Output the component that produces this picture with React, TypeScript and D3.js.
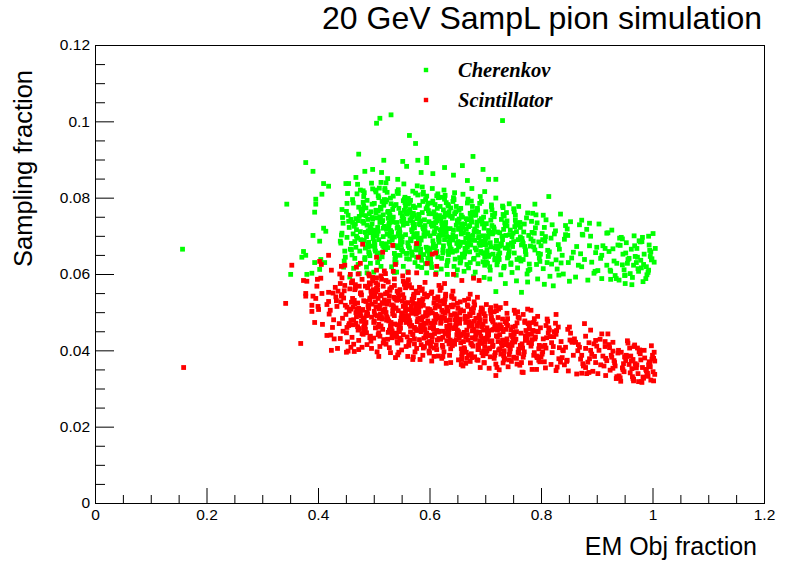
import React, { useEffect, useRef } from 'react';
import * as d3 from 'd3';

const xTicks = [0, 0.2, 0.4, 0.6, 0.8, 1, 1.2];
const yTicks = [0, 0.02, 0.04, 0.06, 0.08, 0.1, 0.12];
const legendLabels = ['Cherenkov', 'Scintillator'];
const seriesColors = ['#00ff00', '#ff0000'];

// EM Obj fraction vs sampling fraction, Cherenkov channel
const cherenkovPoints: [number, number][] = [
  [0.157,0.0665],[0.344,0.0783],[0.351,0.0599],[0.371,0.0644],[0.374,0.0659],[0.378,0.0649],[0.378,0.0892],[0.380,0.0599],[0.389,0.0602],[0.391,0.0869],[0.391,0.0701],[0.394,0.0762],[0.394,0.0630],[0.396,0.0796],[0.396,0.0783],[0.403,0.0686],[0.403,0.0612],[0.405,0.0638],[0.407,0.0809],[0.410,0.0837],[0.410,0.0720],[0.412,0.0630],[0.414,0.0712],[0.419,0.0830],
  [0.505,0.0995],[0.511,0.1008],[0.531,0.1017],[0.564,0.0963],[0.575,0.0942],[0.473,0.0914],[0.518,0.0898],[0.552,0.0895],[0.579,0.0898],[0.595,0.0903],[0.595,0.0892],[0.559,0.0882],[0.659,0.0884],[0.627,0.0879],[0.585,0.0866],[0.606,0.0863],[0.484,0.0869],[0.498,0.0874],[0.468,0.0853],[0.514,0.0866],[0.525,0.0850],[0.543,0.0848],[0.643,0.0859],[0.668,0.0845],[0.455,0.0837],[0.731,0.1002],[0.678,0.0908],[0.696,0.0874],[0.706,0.0848],[0.719,0.0848],[0.676,0.0824],[0.699,0.0816],[0.814,0.0803],[0.789,0.0783],[0.804,0.0754],[0.873,0.0741],[0.887,0.0733],[0.918,0.0707],[0.982,0.0696],[0.993,0.0699],[0.941,0.0694],[0.946,0.0692],[0.995,0.0662],[0.844,0.0727],[0.848,0.0701],[0.874,0.0704],[0.900,0.0670],[0.909,0.0649],[0.936,0.0628],[0.925,0.0607],[0.950,0.0596],[0.897,0.0607],[0.765,0.0552],[0.736,0.0575],[0.719,0.0554],[0.806,0.0573],[0.951,0.0575],[0.925,0.0586],
  [0.447,0.0634],[0.455,0.0738],[0.442,0.0702],[0.451,0.0764],[0.458,0.0665],[0.444,0.0748],[0.449,0.0644],[0.453,0.0811],[0.440,0.0686],[0.456,0.0722],[0.446,0.0618],[0.452,0.0785],[0.443,0.0707],[0.459,0.0743],[0.448,0.0660],[0.454,0.0754],[0.441,0.0681],[0.450,0.0837],[0.457,0.0592],[0.445,0.0733],[0.452,0.0696],[0.443,0.0769],
  [0.467,0.0731],[0.475,0.0660],[0.462,0.0795],[0.471,0.0694],[0.478,0.0760],[0.464,0.0615],[0.469,0.0716],[0.473,0.0775],[0.460,0.0680],[0.476,0.0820],[0.466,0.0641],[0.472,0.0740],[0.463,0.0705],[0.479,0.0765],[0.468,0.0670],[0.474,0.0751],[0.461,0.0650],[0.470,0.0810],[0.477,0.0690],[0.465,0.0725],[0.472,0.0625],[0.463,0.0786],[0.476,0.0711],[0.468,0.0745],[0.460,0.0664],[0.479,0.0755],[0.466,0.0685],[0.471,0.0835],[0.474,0.0601],[0.462,0.0735],[0.469,0.0699],[0.477,0.0770],
  [0.487,0.0618],[0.495,0.0718],[0.482,0.0778],[0.491,0.0683],[0.498,0.0823],[0.484,0.0643],[0.489,0.0743],[0.493,0.0708],[0.480,0.0768],[0.496,0.0673],[0.486,0.0753],[0.492,0.0653],[0.483,0.0813],[0.499,0.0693],[0.488,0.0728],[0.494,0.0628],[0.481,0.0788],[0.490,0.0713],[0.497,0.0748],[0.485,0.0668],[0.492,0.0758],[0.483,0.0688],[0.496,0.0838],[0.488,0.0603],[0.480,0.0738],[0.499,0.0703],[0.486,0.0773],[0.491,0.0658],[0.494,0.0723],[0.482,0.0803],[0.489,0.0678],[0.497,0.0783],[0.484,0.0638],[0.493,0.0716],[0.487,0.0698],[0.498,0.0744],[0.481,0.0818],[0.490,0.0671],[0.495,0.0763],[0.485,0.0709],[0.488,0.0793],[0.493,0.0648],[0.482,0.0733],[0.497,0.0731],
  [0.507,0.0630],[0.515,0.0790],[0.502,0.0715],[0.511,0.0750],[0.518,0.0670],[0.504,0.0760],[0.509,0.0690],[0.513,0.0840],[0.500,0.0605],[0.516,0.0740],[0.506,0.0705],[0.512,0.0775],[0.503,0.0660],[0.519,0.0725],[0.508,0.0805],[0.514,0.0680],[0.501,0.0785],[0.510,0.0640],[0.517,0.0720],[0.505,0.0700],[0.512,0.0745],[0.503,0.0820],[0.516,0.0675],[0.508,0.0765],[0.500,0.0710],[0.519,0.0795],[0.506,0.0650],[0.511,0.0735],[0.514,0.0737],[0.502,0.0665],[0.509,0.0800],[0.517,0.0698],[0.504,0.0767],[0.513,0.0620],[0.507,0.0722],[0.518,0.0780],[0.501,0.0685],[0.510,0.0825],[0.515,0.0645],[0.505,0.0747],[0.508,0.0712],[0.513,0.0770],[0.502,0.0677],[0.517,0.0755],[0.511,0.0655],[0.504,0.0815],
  [0.527,0.0724],[0.535,0.0804],[0.522,0.0679],[0.531,0.0784],[0.538,0.0639],[0.524,0.0719],[0.529,0.0699],[0.533,0.0744],[0.520,0.0819],[0.536,0.0674],[0.526,0.0764],[0.532,0.0709],[0.523,0.0794],[0.539,0.0649],[0.528,0.0734],[0.534,0.0736],[0.521,0.0664],[0.530,0.0799],[0.537,0.0697],[0.525,0.0762],[0.532,0.0619],[0.523,0.0717],[0.536,0.0779],[0.528,0.0684],[0.520,0.0824],[0.539,0.0644],[0.526,0.0746],[0.531,0.0711],[0.534,0.0769],[0.522,0.0672],[0.529,0.0754],[0.537,0.0654],[0.524,0.0814],[0.533,0.0694],[0.527,0.0729],[0.538,0.0629],[0.521,0.0789],[0.530,0.0714],[0.535,0.0749],[0.525,0.0669],[0.528,0.0759],[0.533,0.0689],[0.522,0.0839],[0.537,0.0604],[0.531,0.0739],[0.524,0.0704],
  [0.547,0.0708],[0.555,0.0767],[0.542,0.0674],[0.551,0.0752],[0.558,0.0654],[0.544,0.0811],[0.549,0.0693],[0.553,0.0728],[0.540,0.0630],[0.556,0.0787],[0.546,0.0713],[0.552,0.0747],[0.543,0.0669],[0.559,0.0757],[0.548,0.0689],[0.554,0.0836],[0.541,0.0605],[0.550,0.0738],[0.557,0.0703],[0.545,0.0772],[0.552,0.0659],[0.543,0.0723],[0.556,0.0801],[0.548,0.0679],[0.540,0.0782],[0.559,0.0640],[0.546,0.0718],[0.551,0.0698],[0.554,0.0743],[0.542,0.0816],[0.549,0.0676],[0.557,0.0762],[0.544,0.0706],[0.553,0.0792],[0.547,0.0649],[0.558,0.0733],[0.541,0.0735],[0.550,0.0664],[0.555,0.0796],[0.545,0.0700],[0.548,0.0760],[0.553,0.0620],[0.542,0.0720],[0.557,0.0777],[0.551,0.0684],[0.544,0.0821],
  [0.567,0.0740],[0.575,0.0812],[0.562,0.0673],[0.571,0.0759],[0.578,0.0706],[0.564,0.0788],[0.569,0.0649],[0.573,0.0730],[0.560,0.0732],[0.576,0.0663],[0.566,0.0793],[0.572,0.0697],[0.563,0.0761],[0.579,0.0620],[0.568,0.0716],[0.574,0.0774],[0.561,0.0682],[0.570,0.0817],[0.577,0.0644],[0.565,0.0742],[0.572,0.0704],[0.563,0.0764],[0.576,0.0671],[0.568,0.0750],[0.560,0.0654],[0.579,0.0807],[0.566,0.0692],[0.571,0.0726],[0.574,0.0630],[0.562,0.0783],[0.569,0.0711],[0.577,0.0745],[0.564,0.0668],[0.573,0.0754],[0.567,0.0687],[0.578,0.0831],[0.561,0.0606],[0.570,0.0735],[0.575,0.0702],[0.565,0.0769],[0.568,0.0658],[0.573,0.0721],[0.562,0.0798],[0.577,0.0678],[0.571,0.0778],[0.564,0.0639],
  [0.587,0.0828],[0.595,0.0603],[0.582,0.0732],[0.591,0.0699],[0.598,0.0766],[0.584,0.0655],[0.589,0.0718],[0.593,0.0795],[0.580,0.0675],[0.596,0.0775],[0.586,0.0636],[0.592,0.0713],[0.583,0.0694],[0.599,0.0737],[0.588,0.0809],[0.594,0.0670],[0.581,0.0756],[0.590,0.0703],[0.597,0.0785],[0.585,0.0646],[0.592,0.0727],[0.583,0.0729],[0.596,0.0660],[0.588,0.0790],[0.580,0.0692],[0.599,0.0758],[0.586,0.0617],[0.591,0.0715],[0.594,0.0771],[0.582,0.0679],[0.589,0.0814],[0.597,0.0641],[0.584,0.0739],[0.593,0.0705],[0.587,0.0761],[0.598,0.0668],[0.581,0.0747],[0.590,0.0651],[0.595,0.0804],[0.585,0.0689],[0.588,0.0723],[0.593,0.0627],[0.582,0.0780],[0.597,0.0708],[0.591,0.0742],[0.584,0.0665],
  [0.607,0.0678],[0.615,0.0810],[0.602,0.0640],[0.611,0.0735],[0.618,0.0702],[0.604,0.0758],[0.609,0.0669],[0.613,0.0744],[0.600,0.0650],[0.616,0.0800],[0.606,0.0687],[0.612,0.0720],[0.603,0.0626],[0.619,0.0777],[0.608,0.0706],[0.614,0.0739],[0.601,0.0664],[0.610,0.0749],[0.617,0.0683],[0.605,0.0824],[0.612,0.0603],[0.603,0.0730],[0.616,0.0697],[0.608,0.0763],[0.600,0.0655],[0.619,0.0716],[0.606,0.0791],[0.611,0.0673],[0.614,0.0772],[0.602,0.0636],[0.609,0.0711],[0.617,0.0692],[0.604,0.0733],[0.613,0.0805],[0.607,0.0671],[0.618,0.0753],[0.601,0.0700],[0.610,0.0782],[0.615,0.0645],[0.605,0.0725],[0.608,0.0727],[0.613,0.0659],[0.602,0.0786],[0.617,0.0690],[0.611,0.0755],[0.604,0.0617],
  [0.627,0.0796],[0.635,0.0683],[0.622,0.0716],[0.631,0.0622],[0.638,0.0773],[0.624,0.0702],[0.629,0.0735],[0.633,0.0660],[0.620,0.0745],[0.636,0.0679],[0.626,0.0820],[0.632,0.0599],[0.623,0.0726],[0.639,0.0693],[0.628,0.0759],[0.634,0.0651],[0.621,0.0712],[0.630,0.0787],[0.637,0.0669],[0.625,0.0768],[0.632,0.0632],[0.623,0.0707],[0.636,0.0688],[0.628,0.0731],[0.620,0.0801],[0.639,0.0665],[0.626,0.0749],[0.631,0.0698],[0.634,0.0778],[0.622,0.0641],[0.629,0.0721],[0.637,0.0719],[0.624,0.0655],[0.633,0.0782],[0.627,0.0690],[0.638,0.0751],[0.621,0.0613],[0.630,0.0709],[0.635,0.0763],[0.625,0.0674],[0.628,0.0806],[0.633,0.0636],[0.622,0.0733],[0.637,0.0696],[0.631,0.0754],[0.624,0.0663],
  [0.647,0.0763],[0.655,0.0629],[0.642,0.0703],[0.651,0.0685],[0.658,0.0726],[0.644,0.0795],[0.649,0.0662],[0.653,0.0744],[0.640,0.0694],[0.656,0.0772],[0.646,0.0639],[0.652,0.0717],[0.643,0.0715],[0.659,0.0652],[0.648,0.0777],[0.654,0.0683],[0.641,0.0746],[0.650,0.0611],[0.657,0.0705],[0.645,0.0758],[0.652,0.0671],[0.643,0.0800],[0.656,0.0634],[0.648,0.0728],[0.640,0.0692],[0.659,0.0749],[0.646,0.0660],[0.651,0.0735],[0.654,0.0643],[0.642,0.0790],[0.649,0.0680],[0.657,0.0712],[0.644,0.0620],[0.653,0.0767],[0.647,0.0698],[0.658,0.0731],[0.641,0.0657],[0.650,0.0740],[0.655,0.0675],[0.645,0.0813],[0.648,0.0597],[0.653,0.0721],[0.642,0.0689],[0.657,0.0754],
  [0.667,0.0681],[0.675,0.0740],[0.662,0.0607],[0.671,0.0699],[0.678,0.0754],[0.664,0.0667],[0.669,0.0796],[0.673,0.0630],[0.660,0.0722],[0.676,0.0690],[0.666,0.0745],[0.672,0.0658],[0.663,0.0731],[0.679,0.0639],[0.668,0.0786],[0.674,0.0676],[0.661,0.0708],[0.670,0.0616],[0.677,0.0763],[0.665,0.0694],[0.672,0.0727],[0.663,0.0653],[0.676,0.0736],[0.668,0.0671],[0.660,0.0809],[0.679,0.0593],[0.666,0.0717],[0.671,0.0685],[0.674,0.0750],[0.662,0.0644],[0.669,0.0704],[0.677,0.0777],[0.664,0.0662],[0.673,0.0759],[0.667,0.0625],[0.678,0.0701],[0.661,0.0683],[0.670,0.0724],[0.675,0.0791],[0.665,0.0660],[0.668,0.0742],[0.673,0.0688],
  [0.687,0.0650],[0.695,0.0731],[0.682,0.0668],[0.691,0.0803],[0.698,0.0591],[0.684,0.0713],[0.689,0.0681],[0.693,0.0745],[0.680,0.0641],[0.696,0.0700],[0.686,0.0772],[0.692,0.0659],[0.683,0.0754],[0.699,0.0623],[0.688,0.0695],[0.694,0.0677],[0.681,0.0718],[0.690,0.0785],[0.697,0.0654],[0.685,0.0736],[0.692,0.0686],[0.683,0.0763],[0.696,0.0632],[0.688,0.0709],[0.680,0.0711],[0.699,0.0645],[0.686,0.0767],[0.691,0.0675],[0.694,0.0738],[0.682,0.0605],[0.689,0.0697],[0.697,0.0749],[0.684,0.0663],[0.693,0.0790],[0.687,0.0627],[0.698,0.0720],[0.681,0.0688],[0.690,0.0740],[0.695,0.0656],[0.685,0.0727],
  [0.707,0.0650],[0.715,0.0723],[0.702,0.0632],[0.711,0.0777],[0.718,0.0668],[0.704,0.0700],[0.709,0.0610],[0.713,0.0754],[0.700,0.0686],[0.716,0.0718],[0.706,0.0646],[0.712,0.0727],[0.703,0.0664],[0.719,0.0799],[0.708,0.0587],[0.714,0.0709],[0.701,0.0677],[0.710,0.0741],[0.717,0.0637],[0.705,0.0696],[0.712,0.0768],[0.703,0.0655],[0.716,0.0750],[0.708,0.0619],[0.700,0.0691],[0.719,0.0673],[0.706,0.0714],[0.711,0.0781],[0.714,0.0652],[0.702,0.0732],[0.709,0.0682],[0.717,0.0759],[0.704,0.0628],[0.713,0.0705],[0.707,0.0707],[0.718,0.0641],[0.701,0.0763],[0.710,0.0671],
  [0.727,0.0673],[0.735,0.0734],[0.722,0.0633],[0.731,0.0690],[0.738,0.0761],[0.724,0.0651],[0.729,0.0743],[0.733,0.0616],[0.720,0.0686],[0.736,0.0668],[0.726,0.0708],[0.732,0.0774],[0.723,0.0646],[0.739,0.0726],[0.728,0.0677],[0.734,0.0752],[0.721,0.0624],[0.730,0.0699],[0.737,0.0701],[0.725,0.0638],[0.732,0.0756],[0.723,0.0666],[0.736,0.0728],[0.728,0.0598],[0.720,0.0688],[0.739,0.0739],[0.726,0.0655],[0.731,0.0778],[0.734,0.0620],[0.722,0.0710],[0.729,0.0679],[0.737,0.0730],[0.724,0.0644],[0.733,0.0717],
  [0.747,0.0681],[0.755,0.0733],[0.742,0.0651],[0.751,0.0771],[0.758,0.0616],[0.744,0.0703],[0.749,0.0672],[0.753,0.0724],[0.740,0.0642],[0.756,0.0711],[0.746,0.0625],[0.752,0.0763],[0.743,0.0659],[0.759,0.0690],[0.748,0.0604],[0.754,0.0741],[0.741,0.0677],[0.750,0.0707],[0.757,0.0638],[0.745,0.0715],[0.752,0.0655],[0.743,0.0784],[0.756,0.0582],[0.748,0.0698],[0.740,0.0668],[0.759,0.0728],[0.746,0.0629],[0.751,0.0685],[0.754,0.0754],[0.742,0.0647],
  [0.767,0.0684],[0.775,0.0600],[0.762,0.0735],[0.771,0.0672],[0.778,0.0701],[0.764,0.0634],[0.769,0.0710],[0.773,0.0651],[0.760,0.0777],[0.776,0.0579],[0.766,0.0693],[0.772,0.0663],[0.763,0.0722],[0.779,0.0626],[0.768,0.0680],[0.774,0.0747],[0.761,0.0642],[0.770,0.0731],[0.777,0.0609],[0.765,0.0676],[0.772,0.0659],[0.763,0.0697],[0.776,0.0760],[0.768,0.0638],
  [0.787,0.0671],[0.795,0.0654],[0.782,0.0692],[0.791,0.0755],[0.798,0.0633],[0.784,0.0709],[0.789,0.0663],[0.793,0.0734],[0.780,0.0612],[0.796,0.0684],[0.786,0.0686],[0.792,0.0625],[0.783,0.0738],[0.799,0.0652],[0.788,0.0707],[0.794,0.0587],[0.781,0.0673],[0.790,0.0721],[0.797,0.0642],[0.785,0.0759],
  [0.807,0.0686],[0.815,0.0658],[0.802,0.0706],[0.811,0.0630],[0.818,0.0694],[0.804,0.0614],[0.809,0.0742],[0.813,0.0646],[0.800,0.0674],[0.816,0.0594],[0.806,0.0722],[0.812,0.0662],[0.803,0.0690],[0.819,0.0626],[0.808,0.0698],
  [0.827,0.0637],[0.835,0.0757],[0.822,0.0569],[0.831,0.0677],[0.838,0.0649],[0.824,0.0705],[0.829,0.0613],[0.833,0.0665],[0.820,0.0729],[0.836,0.0629],[0.826,0.0713],[0.832,0.0597],
  [0.847,0.0718],[0.855,0.0642],[0.842,0.0691],[0.851,0.0581],[0.858,0.0657],[0.844,0.0703],[0.849,0.0630],[0.853,0.0737],[0.840,0.0600],
  [0.867,0.0623],[0.875,0.0702],[0.862,0.0592],[0.871,0.0653],[0.878,0.0638],[0.864,0.0672],[0.869,0.0729],[0.873,0.0619],
  [0.887,0.0674],[0.895,0.0602],[0.882,0.0717],[0.891,0.0631],[0.898,0.0656],[0.884,0.0584],[0.889,0.0699],
  [0.907,0.0641],[0.915,0.0667],[0.902,0.0609],[0.911,0.0674],[0.918,0.0623],[0.904,0.0731],[0.909,0.0588],
  [0.927,0.0715],[0.935,0.0588],[0.922,0.0659],[0.931,0.0634],[0.938,0.0676],[0.924,0.0610],[0.929,0.0666],[0.933,0.0596],[0.920,0.0708],
  [0.947,0.0652],[0.955,0.0628],[0.942,0.0675],[0.951,0.0597],[0.958,0.0641],[0.944,0.0696],[0.949,0.0611],[0.953,0.0682],[0.940,0.0584],[0.956,0.0638],[0.946,0.0624],[0.952,0.0655],
  [0.967,0.0700],[0.975,0.0607],[0.962,0.0665],[0.971,0.0630],[0.978,0.0684],[0.964,0.0591],[0.969,0.0646],[0.973,0.0644],[0.960,0.0601],[0.976,0.0687],[0.966,0.0623],[0.972,0.0667],[0.963,0.0572],[0.979,0.0636],[0.968,0.0674],[0.974,0.0614],
  [0.989,0.0619],[0.999,0.0640],[0.983,0.0580],[0.994,0.0676],[1.003,0.0631],[0.985,0.0652],[0.992,0.0604],[0.997,0.0658],[0.980,0.0616],[1.001,0.0706],[0.988,0.0588],[0.996,0.0646],[0.984,0.0625],[1.005,0.0667],[0.990,0.0598],[0.998,0.0637],[0.981,0.0685],[0.993,0.0610],
];

// same events, scintillator channel
const scintillatorPoints: [number, number][] = [
  [0.159,0.0355],[0.342,0.0523],[0.353,0.0623],[0.369,0.0418],[0.374,0.0583],[0.378,0.0549],[0.378,0.0542],[0.380,0.0581],[0.389,0.0518],[0.389,0.0502],[0.391,0.0542],[0.394,0.0473],[0.396,0.0536],[0.398,0.0568],[0.399,0.0586],[0.400,0.0515],[0.401,0.0507],[0.403,0.0633],[0.405,0.0589],[0.406,0.0625],[0.407,0.0549],[0.408,0.0468],[0.416,0.0520],[0.416,0.0439],[0.419,0.0649],[0.419,0.0552],[0.419,0.0528],[0.424,0.0400],
  [0.480,0.0678],[0.534,0.0675],[0.577,0.0680],[0.605,0.0652],[0.611,0.0655],[0.516,0.0657],[0.505,0.0644],[0.580,0.0644],[0.442,0.0620],[0.476,0.0628],[0.539,0.0625],[0.596,0.0628],[0.613,0.0620],[0.643,0.0599],[0.658,0.0583],[0.679,0.0589],[0.689,0.0583],[0.627,0.0575],[0.611,0.0599],[0.577,0.0603],[0.562,0.0604],[0.535,0.0607],[0.505,0.0610],
  [0.451,0.0395],[0.459,0.0408],[0.465,0.0397],[0.479,0.0408],[0.496,0.0405],[0.509,0.0384],[0.473,0.0426],[0.539,0.0381],[0.545,0.0395],[0.561,0.0384],[0.570,0.0376],[0.588,0.0387],[0.608,0.0384],[0.624,0.0384],[0.638,0.0368],[0.658,0.0376],[0.665,0.0366],[0.676,0.0381],
  [0.827,0.0494],[0.809,0.0465],[0.828,0.0452],[0.848,0.0455],[0.880,0.0437],[0.929,0.0421],[0.915,0.0410],[0.939,0.0400],[0.889,0.0400],[1.002,0.0379],[0.950,0.0383],[0.965,0.0376],[1.004,0.0337],[0.966,0.0324],[0.916,0.0334],[0.886,0.0342],[0.873,0.0340],[0.827,0.0347],[0.784,0.0350],[0.768,0.0342],[0.719,0.0334],[0.721,0.0355],[0.687,0.0374],[0.698,0.0368],[0.782,0.0505],[0.787,0.0473],[0.792,0.0450],[0.880,0.0355],[0.898,0.0368],[0.929,0.0353],
  [0.427,0.0550],[0.435,0.0405],[0.422,0.0505],[0.431,0.0565],[0.438,0.0470],[0.424,0.0610],[0.429,0.0430],[0.433,0.0530],[0.420,0.0495],[0.436,0.0555],[0.426,0.0460],[0.432,0.0540],[0.423,0.0440],[0.439,0.0600],[0.428,0.0480],[0.434,0.0515],
  [0.447,0.0556],[0.455,0.0465],[0.442,0.0542],[0.451,0.0446],[0.458,0.0599],[0.444,0.0484],[0.449,0.0518],[0.453,0.0422],[0.440,0.0575],[0.456,0.0503],[0.446,0.0537],[0.452,0.0460],[0.443,0.0546],[0.459,0.0479],[0.448,0.0623],[0.454,0.0398],[0.441,0.0527],[0.450,0.0494],[0.457,0.0561],[0.445,0.0450],[0.452,0.0513],[0.443,0.0590],[0.456,0.0470],[0.448,0.0570],[0.440,0.0431],[0.459,0.0508],
  [0.467,0.0572],[0.475,0.0503],[0.462,0.0536],[0.471,0.0462],[0.478,0.0545],[0.464,0.0480],[0.469,0.0618],[0.473,0.0402],[0.460,0.0526],[0.476,0.0494],[0.466,0.0559],[0.472,0.0453],[0.463,0.0513],[0.479,0.0586],[0.468,0.0471],[0.474,0.0568],[0.461,0.0434],[0.470,0.0508],[0.477,0.0490],[0.465,0.0531],[0.472,0.0600],[0.463,0.0467],[0.476,0.0549],[0.468,0.0499],[0.460,0.0577],[0.479,0.0444],[0.466,0.0522],[0.471,0.0524],[0.474,0.0457],[0.462,0.0582],[0.469,0.0488],[0.477,0.0551],[0.464,0.0416],[0.473,0.0510],[0.467,0.0563],[0.478,0.0476],
  [0.487,0.0491],[0.495,0.0555],[0.482,0.0451],[0.491,0.0510],[0.498,0.0582],[0.484,0.0469],[0.489,0.0564],[0.493,0.0433],[0.480,0.0505],[0.496,0.0487],[0.486,0.0528],[0.492,0.0595],[0.483,0.0464],[0.499,0.0546],[0.488,0.0496],[0.494,0.0573],[0.481,0.0442],[0.490,0.0519],[0.497,0.0521],[0.485,0.0455],[0.492,0.0577],[0.483,0.0485],[0.496,0.0548],[0.488,0.0415],[0.480,0.0507],[0.499,0.0559],[0.486,0.0473],[0.491,0.0600],[0.494,0.0437],[0.482,0.0530],[0.489,0.0494],[0.497,0.0550],[0.484,0.0462],[0.493,0.0537],[0.487,0.0446],[0.498,0.0591],[0.481,0.0482],[0.490,0.0514],[0.495,0.0424],[0.485,0.0568],[0.488,0.0500],[0.493,0.0532],[0.482,0.0460],[0.497,0.0541],
  [0.507,0.0572],[0.515,0.0482],[0.502,0.0541],[0.511,0.0410],[0.518,0.0500],[0.504,0.0554],[0.509,0.0468],[0.513,0.0595],[0.500,0.0432],[0.516,0.0523],[0.506,0.0491],[0.512,0.0545],[0.503,0.0459],[0.519,0.0532],[0.508,0.0441],[0.514,0.0586],[0.501,0.0477],[0.510,0.0509],[0.517,0.0419],[0.505,0.0563],[0.512,0.0495],[0.503,0.0527],[0.516,0.0455],[0.508,0.0536],[0.500,0.0473],[0.519,0.0608],[0.506,0.0396],[0.511,0.0518],[0.514,0.0486],[0.502,0.0550],[0.509,0.0446],[0.517,0.0505],[0.504,0.0577],[0.513,0.0464],[0.507,0.0559],[0.518,0.0428],[0.501,0.0502],[0.510,0.0484],[0.515,0.0525],[0.505,0.0590],[0.508,0.0461],[0.513,0.0543],[0.502,0.0493],[0.517,0.0568],[0.511,0.0437],[0.504,0.0514],
  [0.527,0.0477],[0.535,0.0517],[0.522,0.0583],[0.531,0.0455],[0.538,0.0535],[0.524,0.0486],[0.529,0.0561],[0.533,0.0433],[0.520,0.0508],[0.536,0.0510],[0.526,0.0447],[0.532,0.0565],[0.523,0.0479],[0.539,0.0537],[0.528,0.0407],[0.534,0.0495],[0.521,0.0548],[0.530,0.0464],[0.537,0.0587],[0.525,0.0429],[0.532,0.0519],[0.523,0.0488],[0.536,0.0539],[0.528,0.0453],[0.520,0.0526],[0.539,0.0438],[0.526,0.0579],[0.531,0.0473],[0.534,0.0504],[0.522,0.0416],[0.529,0.0557],[0.537,0.0491],[0.524,0.0521],[0.533,0.0451],[0.527,0.0530],[0.538,0.0469],[0.521,0.0601],[0.530,0.0394],[0.535,0.0513],[0.525,0.0482],[0.528,0.0543],[0.533,0.0442],[0.522,0.0499],[0.537,0.0570],[0.531,0.0460],[0.524,0.0552],
  [0.547,0.0432],[0.555,0.0573],[0.542,0.0467],[0.551,0.0498],[0.558,0.0410],[0.544,0.0551],[0.549,0.0485],[0.553,0.0515],[0.540,0.0445],[0.556,0.0524],[0.546,0.0463],[0.552,0.0595],[0.543,0.0388],[0.559,0.0507],[0.548,0.0476],[0.554,0.0537],[0.541,0.0436],[0.550,0.0493],[0.557,0.0564],[0.545,0.0454],[0.552,0.0546],[0.543,0.0419],[0.556,0.0489],[0.548,0.0471],[0.540,0.0511],[0.559,0.0577],[0.546,0.0449],[0.551,0.0529],[0.554,0.0480],[0.542,0.0555],[0.549,0.0427],[0.557,0.0502],[0.544,0.0504],[0.553,0.0441],[0.547,0.0559],[0.558,0.0473],[0.541,0.0531],[0.550,0.0401],[0.555,0.0491],[0.545,0.0542],[0.548,0.0458],[0.553,0.0581],[0.542,0.0423],[0.557,0.0513],[0.551,0.0482],[0.544,0.0533],
  [0.567,0.0516],[0.575,0.0456],[0.562,0.0585],[0.571,0.0383],[0.578,0.0499],[0.564,0.0469],[0.569,0.0529],[0.573,0.0430],[0.560,0.0486],[0.576,0.0555],[0.566,0.0448],[0.572,0.0538],[0.563,0.0413],[0.579,0.0482],[0.568,0.0465],[0.574,0.0504],[0.561,0.0568],[0.570,0.0443],[0.577,0.0521],[0.565,0.0473],[0.572,0.0547],[0.563,0.0422],[0.576,0.0495],[0.568,0.0497],[0.560,0.0435],[0.579,0.0551],[0.566,0.0463],[0.571,0.0523],[0.574,0.0396],[0.562,0.0484],[0.569,0.0534],[0.577,0.0452],[0.564,0.0572],[0.573,0.0417],[0.567,0.0506],[0.578,0.0475],[0.561,0.0525],[0.570,0.0441],[0.575,0.0512],[0.565,0.0426],[0.568,0.0564],[0.573,0.0460],[0.562,0.0491],[0.577,0.0405],[0.571,0.0542],[0.564,0.0478],
  [0.587,0.0527],[0.595,0.0445],[0.582,0.0565],[0.591,0.0410],[0.598,0.0497],[0.584,0.0466],[0.589,0.0518],[0.593,0.0436],[0.580,0.0505],[0.596,0.0419],[0.586,0.0557],[0.592,0.0453],[0.583,0.0484],[0.599,0.0398],[0.588,0.0535],[0.594,0.0471],[0.581,0.0501],[0.590,0.0432],[0.597,0.0509],[0.585,0.0449],[0.592,0.0578],[0.583,0.0376],[0.596,0.0492],[0.588,0.0462],[0.580,0.0522],[0.599,0.0423],[0.586,0.0479],[0.591,0.0548],[0.594,0.0441],[0.582,0.0531],[0.589,0.0406],[0.597,0.0477],[0.584,0.0458],[0.593,0.0499],[0.587,0.0561],[0.598,0.0438],[0.581,0.0514],[0.590,0.0468],[0.595,0.0540],[0.585,0.0415],[0.588,0.0488],[0.593,0.0490],[0.582,0.0428],[0.597,0.0544],[0.591,0.0456],[0.584,0.0516],
  [0.607,0.0461],[0.615,0.0532],[0.602,0.0410],[0.611,0.0482],[0.618,0.0484],[0.604,0.0423],[0.609,0.0536],[0.613,0.0452],[0.600,0.0507],[0.616,0.0385],[0.606,0.0469],[0.612,0.0519],[0.603,0.0440],[0.619,0.0557],[0.608,0.0406],[0.614,0.0490],[0.601,0.0459],[0.610,0.0511],[0.617,0.0431],[0.605,0.0498],[0.612,0.0414],[0.603,0.0549],[0.616,0.0448],[0.608,0.0477],[0.600,0.0393],[0.619,0.0528],[0.606,0.0465],[0.611,0.0494],[0.614,0.0427],[0.602,0.0503],[0.609,0.0444],[0.617,0.0570],[0.604,0.0372],[0.613,0.0486],[0.607,0.0456],[0.618,0.0515],[0.601,0.0419],[0.610,0.0473],[0.615,0.0540],[0.605,0.0435],[0.608,0.0524],[0.613,0.0402],[0.602,0.0471],[0.617,0.0450],[0.611,0.0492],[0.604,0.0553],
  [0.627,0.0484],[0.635,0.0455],[0.622,0.0505],[0.631,0.0425],[0.638,0.0492],[0.624,0.0408],[0.629,0.0543],[0.633,0.0442],[0.620,0.0471],[0.636,0.0387],[0.626,0.0522],[0.632,0.0459],[0.623,0.0488],[0.639,0.0421],[0.628,0.0497],[0.634,0.0438],[0.621,0.0564],[0.630,0.0366],[0.637,0.0480],[0.625,0.0450],[0.632,0.0509],[0.623,0.0413],[0.636,0.0467],[0.628,0.0534],[0.620,0.0429],[0.639,0.0518],[0.626,0.0396],[0.631,0.0463],[0.634,0.0446],[0.622,0.0486],[0.629,0.0547],[0.637,0.0427],[0.624,0.0501],[0.633,0.0453],[0.627,0.0526],[0.638,0.0404],[0.621,0.0476],[0.630,0.0478],[0.635,0.0417],[0.625,0.0530],[0.628,0.0444],[0.633,0.0503],[0.622,0.0379],[0.637,0.0465],[0.631,0.0513],[0.624,0.0434],
  [0.647,0.0461],[0.655,0.0527],[0.642,0.0424],[0.651,0.0510],[0.658,0.0391],[0.644,0.0457],[0.649,0.0441],[0.653,0.0478],[0.640,0.0539],[0.656,0.0420],[0.646,0.0494],[0.652,0.0449],[0.643,0.0519],[0.659,0.0400],[0.648,0.0469],[0.654,0.0471],[0.641,0.0412],[0.650,0.0523],[0.657,0.0439],[0.645,0.0496],[0.652,0.0375],[0.643,0.0459],[0.656,0.0506],[0.648,0.0428],[0.640,0.0543],[0.659,0.0395],[0.646,0.0480],[0.651,0.0447],[0.654,0.0498],[0.642,0.0418],[0.649,0.0486],[0.657,0.0404],[0.644,0.0535],[0.653,0.0436],[0.647,0.0465],[0.658,0.0383],[0.641,0.0514],[0.650,0.0453],[0.655,0.0482],[0.645,0.0416],[0.648,0.0490],[0.653,0.0432],[0.642,0.0555],[0.657,0.0363],
  [0.667,0.0379],[0.675,0.0507],[0.662,0.0447],[0.671,0.0475],[0.678,0.0411],[0.664,0.0483],[0.669,0.0427],[0.673,0.0547],[0.660,0.0359],[0.676,0.0467],[0.666,0.0439],[0.672,0.0495],[0.663,0.0403],[0.679,0.0455],[0.668,0.0519],[0.674,0.0419],[0.661,0.0503],[0.670,0.0387],[0.677,0.0451],[0.665,0.0435],[0.672,0.0471],[0.663,0.0531],[0.676,0.0415],[0.668,0.0487],[0.660,0.0443],[0.679,0.0511],[0.666,0.0395],[0.671,0.0463],[0.674,0.0465],[0.662,0.0407],[0.669,0.0515],[0.677,0.0433],[0.664,0.0489],[0.673,0.0371],[0.667,0.0453],[0.678,0.0499],[0.661,0.0423],[0.670,0.0535],[0.675,0.0391],[0.665,0.0473],[0.668,0.0441],[0.673,0.0491],
  [0.687,0.0402],[0.695,0.0507],[0.682,0.0429],[0.691,0.0480],[0.698,0.0367],[0.684,0.0445],[0.689,0.0492],[0.693,0.0418],[0.680,0.0527],[0.696,0.0386],[0.686,0.0465],[0.692,0.0437],[0.683,0.0484],[0.699,0.0410],[0.688,0.0472],[0.694,0.0394],[0.681,0.0519],[0.690,0.0425],[0.697,0.0453],[0.685,0.0375],[0.692,0.0500],[0.683,0.0441],[0.696,0.0468],[0.688,0.0406],[0.680,0.0476],[0.699,0.0422],[0.686,0.0539],[0.691,0.0355],[0.694,0.0461],[0.682,0.0433],[0.689,0.0488],[0.697,0.0398],[0.684,0.0449],[0.693,0.0511],[0.687,0.0414],[0.698,0.0496],[0.681,0.0383],[0.690,0.0447],[0.695,0.0431],[0.685,0.0463],
  [0.707,0.0353],[0.715,0.0455],[0.702,0.0429],[0.711,0.0482],[0.718,0.0394],[0.704,0.0444],[0.709,0.0505],[0.713,0.0410],[0.700,0.0489],[0.716,0.0379],[0.706,0.0440],[0.712,0.0425],[0.703,0.0459],[0.719,0.0516],[0.708,0.0406],[0.714,0.0474],[0.701,0.0432],[0.710,0.0497],[0.717,0.0387],[0.705,0.0451],[0.712,0.0453],[0.703,0.0398],[0.716,0.0501],[0.708,0.0423],[0.700,0.0476],[0.719,0.0364],[0.706,0.0442],[0.711,0.0486],[0.714,0.0413],[0.702,0.0520],[0.709,0.0383],[0.717,0.0461],[0.704,0.0434],[0.713,0.0478],[0.707,0.0404],[0.718,0.0467],[0.701,0.0391],[0.710,0.0512],
  [0.727,0.0512],[0.735,0.0378],[0.722,0.0453],[0.731,0.0427],[0.738,0.0471],[0.724,0.0401],[0.729,0.0460],[0.733,0.0386],[0.720,0.0504],[0.736,0.0415],[0.726,0.0441],[0.732,0.0367],[0.723,0.0486],[0.739,0.0430],[0.728,0.0456],[0.734,0.0397],[0.721,0.0464],[0.730,0.0412],[0.737,0.0523],[0.725,0.0349],[0.732,0.0449],[0.723,0.0423],[0.736,0.0475],[0.728,0.0390],[0.720,0.0438],[0.739,0.0497],[0.726,0.0404],[0.731,0.0482],[0.734,0.0375],[0.722,0.0436],[0.729,0.0419],[0.737,0.0455],[0.724,0.0508],[0.733,0.0399],[0.727,0.0467],[0.738,0.0425],
  [0.747,0.0371],[0.755,0.0429],[0.742,0.0415],[0.751,0.0447],[0.758,0.0501],[0.744,0.0397],[0.749,0.0461],[0.753,0.0422],[0.740,0.0483],[0.756,0.0379],[0.746,0.0440],[0.752,0.0442],[0.743,0.0389],[0.759,0.0487],[0.748,0.0413],[0.754,0.0463],[0.741,0.0357],[0.750,0.0431],[0.757,0.0472],[0.745,0.0404],[0.752,0.0505],[0.743,0.0375],[0.756,0.0449],[0.748,0.0420],[0.740,0.0465],[0.759,0.0395],[0.746,0.0454],[0.751,0.0382],[0.754,0.0497],[0.742,0.0411],[0.749,0.0436],[0.757,0.0364],
  [0.767,0.0406],[0.775,0.0431],[0.762,0.0361],[0.771,0.0473],[0.778,0.0420],[0.764,0.0445],[0.769,0.0389],[0.773,0.0452],[0.760,0.0403],[0.776,0.0508],[0.766,0.0343],[0.772,0.0438],[0.763,0.0413],[0.779,0.0463],[0.768,0.0382],[0.774,0.0428],[0.761,0.0484],[0.770,0.0396],[0.777,0.0470],[0.765,0.0368],[0.772,0.0426],[0.763,0.0410],[0.776,0.0442],[0.768,0.0494],[0.760,0.0392],[0.779,0.0456],[0.766,0.0417],[0.771,0.0477],
  [0.787,0.0387],[0.795,0.0449],[0.782,0.0411],[0.791,0.0469],[0.798,0.0370],[0.784,0.0428],[0.789,0.0430],[0.793,0.0381],[0.780,0.0472],[0.796,0.0404],[0.786,0.0451],[0.792,0.0350],[0.783,0.0418],[0.799,0.0459],[0.788,0.0394],[0.794,0.0489],[0.781,0.0367],[0.790,0.0435],[0.797,0.0413],[0.785,0.0452],[0.792,0.0385],[0.783,0.0442],[0.796,0.0374],[0.788,0.0483],
  [0.807,0.0413],[0.815,0.0453],[0.802,0.0390],[0.811,0.0482],[0.818,0.0363],[0.804,0.0430],[0.809,0.0406],[0.813,0.0446],[0.800,0.0383],[0.816,0.0436],[0.806,0.0370],[0.812,0.0476],[0.803,0.0396],[0.819,0.0420],[0.808,0.0354],[0.814,0.0459],[0.801,0.0410],[0.810,0.0433],
  [0.827,0.0442],[0.835,0.0369],[0.822,0.0410],[0.831,0.0461],[0.838,0.0381],[0.824,0.0449],[0.829,0.0356],[0.833,0.0407],[0.820,0.0394],[0.836,0.0423],[0.826,0.0471],[0.832,0.0378],[0.823,0.0436],[0.839,0.0401],
  [0.847,0.0374],[0.855,0.0424],[0.842,0.0362],[0.851,0.0461],[0.858,0.0387],[0.844,0.0408],[0.849,0.0346],[0.853,0.0445],[0.840,0.0399],[0.856,0.0421],[0.846,0.0371],[0.852,0.0427],
  [0.867,0.0415],[0.875,0.0365],[0.862,0.0421],[0.871,0.0377],[0.878,0.0470],[0.864,0.0338],[0.869,0.0408],[0.873,0.0387],[0.860,0.0430],[0.876,0.0359],[0.866,0.0399],
  [0.887,0.0378],[0.895,0.0417],[0.882,0.0339],[0.891,0.0390],[0.898,0.0426],[0.884,0.0369],[0.889,0.0453],[0.893,0.0345],[0.880,0.0405],[0.896,0.0384],[0.886,0.0420],
  [0.907,0.0362],[0.915,0.0423],[0.902,0.0339],[0.911,0.0385],[0.918,0.0373],[0.904,0.0400],[0.909,0.0443],[0.913,0.0359],[0.900,0.0411],[0.916,0.0379],[0.906,0.0429],
  [0.927,0.0382],[0.935,0.0326],[0.922,0.0415],[0.931,0.0373],[0.938,0.0393],[0.924,0.0348],[0.929,0.0398],[0.933,0.0359],[0.920,0.0443],[0.936,0.0331],[0.926,0.0387],[0.932,0.0368],[0.923,0.0407],
  [0.947,0.0349],[0.955,0.0425],[0.942,0.0328],[0.951,0.0382],[0.958,0.0363],[0.944,0.0395],[0.949,0.0344],[0.953,0.0387],[0.940,0.0333],[0.956,0.0419],[0.946,0.0354],[0.952,0.0373],[0.943,0.0319],[0.959,0.0406],[0.948,0.0365],[0.954,0.0384],
  [0.967,0.0410],[0.975,0.0318],[0.962,0.0372],[0.971,0.0354],[0.978,0.0391],[0.964,0.0331],[0.969,0.0365],[0.973,0.0406],[0.960,0.0341],[0.976,0.0396],[0.966,0.0320],[0.972,0.0362],[0.963,0.0352],[0.979,0.0375],[0.968,0.0414],[0.974,0.0339],[0.961,0.0385],[0.970,0.0357],[0.977,0.0401],[0.965,0.0326],
  [0.989,0.0347],[0.999,0.0377],[0.983,0.0330],[0.994,0.0370],[1.002,0.0320],[0.985,0.0400],[0.991,0.0340],[0.996,0.0357],[0.980,0.0318],[1.000,0.0387],[0.988,0.0350],[0.995,0.0367],[0.984,0.0327],[1.004,0.0372],[0.990,0.0337],[0.998,0.0412],[0.981,0.0316],[0.993,0.0362],[1.001,0.0344],[0.986,0.0380],[0.997,0.0322],[0.982,0.0355],[1.003,0.0395],[0.992,0.0332],
];

const App: React.FC = () => {
  const ref = useRef<SVGSVGElement | null>(null);

  useEffect(() => {
    if (!ref.current) return;
    const svg = d3.select(ref.current);
    svg.selectAll('*').remove();

    const frame = { left: 95, right: 764, top: 45, bottom: 503 };
    const sans = "'Liberation Sans', Arial, Helvetica, sans-serif";

    const x = d3.scaleLinear().domain([0, 1.2]).range([frame.left, frame.right]);
    const y = d3.scaleLinear().domain([0, 0.12]).range([frame.bottom, frame.top]);

    svg.append('rect').attr('width', 796).attr('height', 572).attr('fill', 'white');

    // markers: small filled squares
    const m = 4.8;
    [cherenkovPoints, scintillatorPoints].forEach((pts, i) => {
      svg
        .append('g')
        .selectAll('rect')
        .data(pts)
        .enter()
        .append('rect')
        .attr('x', (d) => x(d[0]) - m / 2)
        .attr('y', (d) => y(d[1]) - m / 2)
        .attr('width', m)
        .attr('height', m)
        .attr('fill', seriesColors[i]);
    });

    // frame
    svg
      .append('rect')
      .attr('x', frame.left + 0.5)
      .attr('y', frame.top + 0.5)
      .attr('width', frame.right - frame.left)
      .attr('height', frame.bottom - frame.top)
      .attr('fill', 'none')
      .attr('stroke', 'black')
      .attr('stroke-width', 1);

    // ticks point into the frame, ROOT style
    const xMinor = d3.range(0, 1.2001, 0.05).filter((v) => Math.abs(v * 5 - Math.round(v * 5)) > 1e-6);
    const yMinor = d3.range(0, 0.12001, 0.005).filter((v) => Math.abs(v * 50 - Math.round(v * 50)) > 1e-6);

    const xAxis = svg
      .append('g')
      .attr('transform', `translate(0,${frame.bottom})`)
      .call(d3.axisBottom(x).tickValues(xTicks).tickSizeInner(-15).tickSizeOuter(0).tickPadding(6).tickFormat((d) => String(d)));
    svg
      .append('g')
      .attr('transform', `translate(0,${frame.bottom})`)
      .call(d3.axisBottom(x).tickValues(xMinor).tickSizeInner(-8).tickSizeOuter(0).tickFormat(() => ''));

    const yAxis = svg
      .append('g')
      .attr('transform', `translate(${frame.left},0)`)
      .call(d3.axisLeft(y).tickValues(yTicks).tickSizeInner(-19).tickSizeOuter(0).tickPadding(5).tickFormat((d) => String(d)));
    svg
      .append('g')
      .attr('transform', `translate(${frame.left},0)`)
      .call(d3.axisLeft(y).tickValues(yMinor).tickSizeInner(-10).tickSizeOuter(0).tickFormat(() => ''));

    svg.selectAll('.domain').remove();
    [xAxis, yAxis].forEach((g) => g.selectAll('text').attr('font-family', sans).attr('font-size', 15.5).attr('fill', 'black'));
    svg.selectAll('.tick line').attr('stroke', 'black');

    // titles
    svg
      .append('text')
      .attr('x', 762)
      .attr('y', 29)
      .attr('text-anchor', 'end')
      .attr('font-family', sans)
      .attr('font-size', 32)
      .text('20 GeV SampL pion simulation');

    svg
      .append('text')
      .attr('x', 757)
      .attr('y', 555)
      .attr('text-anchor', 'end')
      .attr('font-family', sans)
      .attr('font-size', 25)
      .text('EM Obj fraction');

    svg
      .append('text')
      .attr('transform', 'translate(32,70) rotate(-90)')
      .attr('text-anchor', 'end')
      .attr('font-family', sans)
      .attr('font-size', 25.5)
      .text('Sampling fraction');

    // legend
    const legend = svg.append('g');
    legendLabels.forEach((label, i) => {
      const cy = 70 + i * 30;
      legend
        .append('rect')
        .attr('x', 426 - 2.2)
        .attr('y', cy - 2.2)
        .attr('width', 4.4)
        .attr('height', 4.4)
        .attr('fill', seriesColors[i]);
      legend
        .append('text')
        .attr('x', 458)
        .attr('y', cy + 7)
        .attr('font-family', "'Liberation Serif', 'Times New Roman', serif")
        .attr('font-weight', 'bold')
        .attr('font-style', 'italic')
        .attr('font-size', 20.5)
        .text(label);
    });
  }, []);

  return <svg ref={ref} width={796} height={572} style={{ position: 'absolute', left: 0, top: 0 }}></svg>;
};

export default App;
